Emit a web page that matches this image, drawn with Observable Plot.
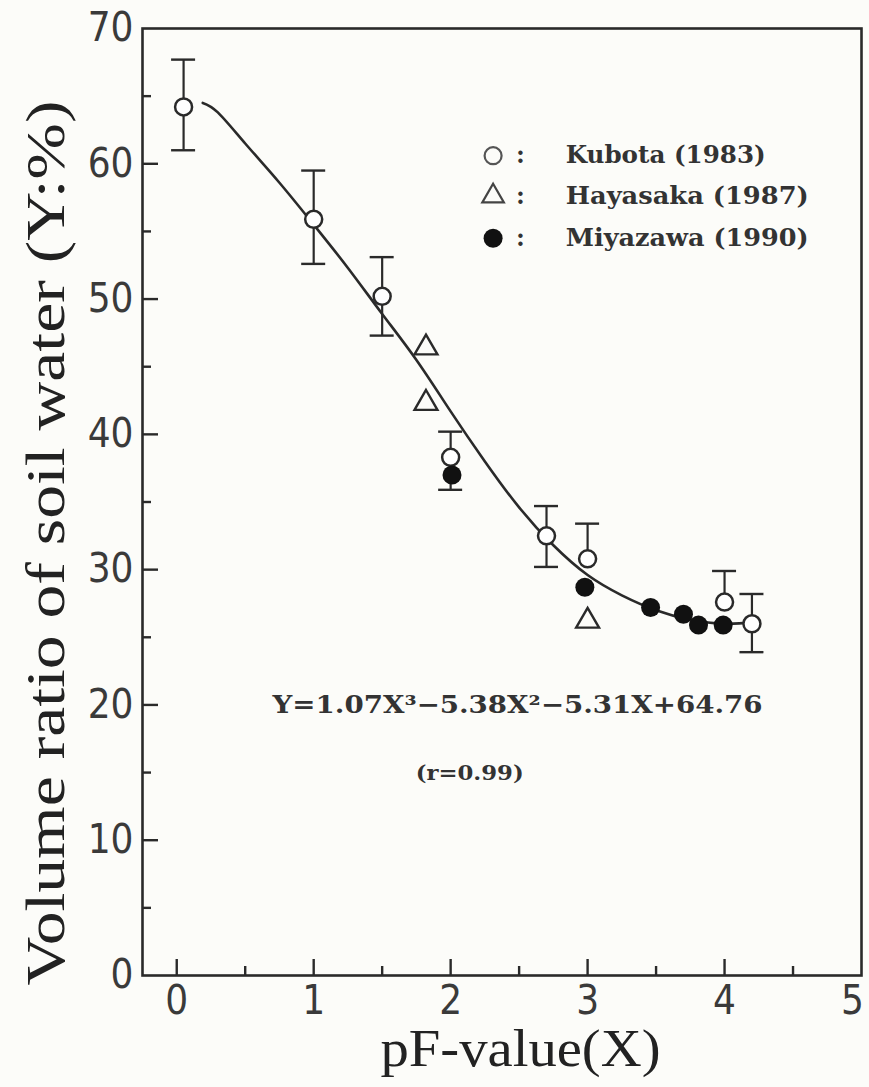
<!DOCTYPE html>
<html><head><meta charset="utf-8">
<script src="https://cdn.jsdelivr.net/npm/d3@7"></script>
<script src="https://cdn.jsdelivr.net/npm/@observablehq/plot@0.6"></script>
<style>
html,body{margin:0;padding:0;background:#fcfcf9;}
#chart svg{display:block;}
</style>
</head><body><div id="chart"></div>
<script>
// ---- data ----
const kubotaX  = [0.05, 1.0, 1.5, 2.0, 2.7, 3.0, 4.0, 4.2];
const kubotaY  = [64.2, 55.9, 50.2, 38.3, 32.5, 30.8, 27.6, 26.0];
const kubotaHi = [67.7, 59.5, 53.1, 40.2, 34.7, 33.4, 29.9, 28.2];
const kubotaLo = [61.0, 52.6, 47.3, 35.9, 30.2, null, null, 23.9];

const hayasakaX = [1.82, 1.82, 3.0];
const hayasakaY = [46.4, 42.3, 26.2];

const miyazawaX = [2.01, 2.98, 3.46, 3.70, 3.81, 3.99];
const miyazawaY = [37.0, 28.7, 27.2, 26.7, 25.9, 25.9];

// fitted curve
const curveX = [0.19, 0.30, 0.50, 0.75, 1.00, 1.25, 1.50, 1.75, 2.00, 2.25, 2.50, 2.75, 3.00, 3.25, 3.50, 3.75, 4.00, 4.21];
const curveY = [64.5, 63.8, 61.5, 58.6, 55.5, 52.3, 48.9, 45.5, 41.7, 38.0, 34.6, 31.8, 29.6, 28.1, 27.0, 26.3, 26.0, 26.1];

const xTickLabels = [0, 1, 2, 3, 4];
const xLastLabel = [5];
const yTickLabels = [0, 10, 20, 30, 40, 50, 60, 70];
const xMajorTicks = [0, 1, 2, 3, 4];
const xMinorTicks = [0.5, 1.5, 2.5, 3.5, 4.5];
const yMajorTicks = [10, 20, 30, 40, 50, 60];
const yMinorTicks = [5, 15, 25, 35, 45, 55, 65];

const seriesNames = ["Kubota (1983)", "Hayasaka (1987)", "Miyazawa (1990)"];
const xTitle = "pF-value(X)";
const yTitle = "Volume ratio of soil water (Y:%)";
const equation = "Y=1.07X\u00B3\u22125.38X\u00B2\u22125.31X+64.76";
const rText = "(r=0.99)";

// ---- layout ----
const W = 869, H = 1087;
const mL = 142, mR = 8, mT = 28, mB = 112;
const plotW = W - mL - mR, plotH = H - mT - mB;
const ink = "#2a2a2a";
const tickFont = "'Liberation Sans Narrow', 'DejaVu Sans Condensed', 'Liberation Sans', sans-serif";
const serif = "'Liberation Serif', 'DejaVu Serif', serif";
const boldSerif = "'DejaVu Serif', 'Liberation Serif', serif";

const kubota = kubotaX.map((x, i) => ({x, y: kubotaY[i], lo: kubotaLo[i], hi: kubotaHi[i]}));
const bars = kubota.map(d => ({x: d.x, y1: d.lo ?? d.y, y2: d.hi}));
const caps = [];
kubota.forEach(d => { caps.push({x: d.x, v: d.hi}); if (d.lo != null) caps.push({x: d.x, v: d.lo}); });
const hayasaka = hayasakaX.map((x, i) => ({x, y: hayasakaY[i]}));
const miyazawa = miyazawaX.map((x, i) => ({x, y: miyazawaY[i]}));
const curve = curveX.map((x, i) => ({x, y: curveY[i]}));

// legend & annotation positions (data units)
const legX = 2.31, legColonX = 2.51, legTextX = 2.84;
const legY = [60.6, 57.6, 54.5];
const legend = seriesNames.map((name, i) => ({name, y: legY[i]}));

const plot = Plot.plot({
  width: W, height: H,
  marginLeft: mL, marginRight: mR, marginTop: mT, marginBottom: mB,
  style: {background: "transparent", color: ink},
  x: {domain: [-0.25, 5]},
  y: {domain: [0, 70]},
  marks: [
    Plot.axisX({ticks: xTickLabels, tickSize: 0, tickPadding: 10, label: null, fontSize: 40, fontFamily: tickFont, tickFormat: d => String(d), fill: "#3a3a3a"}),
    Plot.axisX({ticks: xLastLabel, tickSize: 0, tickPadding: 10, label: null, fontSize: 40, fontFamily: tickFont, tickFormat: d => String(d), fill: "#3a3a3a", dx: -9}),
    Plot.axisY({ticks: yTickLabels, tickSize: 0, tickPadding: 9, label: null, fontSize: 40, fontFamily: tickFont, tickFormat: d => String(d), fill: "#3a3a3a"}),
    Plot.tickX(xMajorTicks, {x: d => d, insetTop: plotH - 16, stroke: ink, strokeWidth: 2.4}),
    Plot.tickX(xMinorTicks, {x: d => d, insetTop: plotH - 9, stroke: ink, strokeWidth: 2.4}),
    Plot.tickY(yMajorTicks, {y: d => d, insetRight: plotW - 16, stroke: ink, strokeWidth: 2.4}),
    Plot.tickY(yMinorTicks, {y: d => d, insetRight: plotW - 9, stroke: ink, strokeWidth: 2.4}),
    Plot.line(curve, {x: "x", y: "y", curve: "natural", stroke: ink, strokeWidth: 2.6}),
    Plot.ruleX(bars, {x: "x", y1: "y1", y2: "y2", stroke: ink, strokeWidth: 2.2}),
    Plot.ruleY(caps, {y: "v", x1: "x", x2: "x", insetLeft: -12, insetRight: -12, stroke: ink, strokeWidth: 2.4}),
    Plot.dot(hayasaka, {x: "x", y: "y", symbol: "triangle", r: 8.5, fill: "none", stroke: ink, strokeWidth: 2.4}),
    Plot.dot(kubota, {x: "x", y: "y", r: 8.5, fill: "#fff", stroke: ink, strokeWidth: 2.5}),
    Plot.dot(miyazawa, {x: "x", y: "y", r: 9.5, fill: "#111"}),
    // legend
    Plot.dot(legend.slice(0, 1), {x: () => legX, y: "y", r: 8.5, fill: "none", stroke: "#555", strokeWidth: 2.2}),
    Plot.dot(legend.slice(1, 2), {x: () => legX, y: "y", symbol: "triangle", r: 8, fill: "none", stroke: "#444", strokeWidth: 2.2}),
    Plot.dot(legend.slice(2, 3), {x: () => legX, y: "y", r: 9.5, fill: "#111"}),
    Plot.text(legend, {x: () => legColonX, y: "y", text: () => ":", fontSize: 24, fontWeight: "bold", fontFamily: boldSerif, fill: "#333"}),
    Plot.text(legend, {x: () => legTextX, y: "y", text: "name", textAnchor: "start", fontSize: 24, fontWeight: "bold", fontFamily: boldSerif, fill: "#333"}),
    // equation
    Plot.text([equation], {x: () => 0.70, y: () => 20.0, text: d => d, textAnchor: "start", fontSize: 24, fontWeight: "bold", fontFamily: boldSerif, fill: "#333"}),
    Plot.text([rText], {x: () => 1.745, y: () => 14.9, text: d => d, textAnchor: "start", fontSize: 20, fontWeight: "bold", fontFamily: boldSerif, fill: "#333"}),
    // axis titles
    Plot.text([xTitle], {frameAnchor: "bottom", dx: -121.5, dy: 90, textAnchor: "start", text: d => d, fontSize: 52, fontFamily: serif, fill: "#222"}),
    Plot.text([yTitle], {frameAnchor: "left", dx: -96, dy: 483.5, rotate: -90, textAnchor: "start", text: d => d, fontSize: 55, fontFamily: serif, fill: "#222"}),
    Plot.frame({stroke: ink, strokeWidth: 2.6})
  ]
});

// stretch texts to the widths they have in the reference
const widths = {
  [xTitle]: 280, [yTitle]: 885,
  [seriesNames[0]]: 200, [seriesNames[1]]: 243, [seriesNames[2]]: 243,
  [equation]: 490, [rText]: 108
};
d3.select(plot).selectAll("text").each(function() {
  const w = widths[this.textContent];
  if (w) { this.setAttribute("textLength", w); this.setAttribute("lengthAdjust", "spacingAndGlyphs"); }
});
document.getElementById("chart").appendChild(plot);
</script>
</body></html>
